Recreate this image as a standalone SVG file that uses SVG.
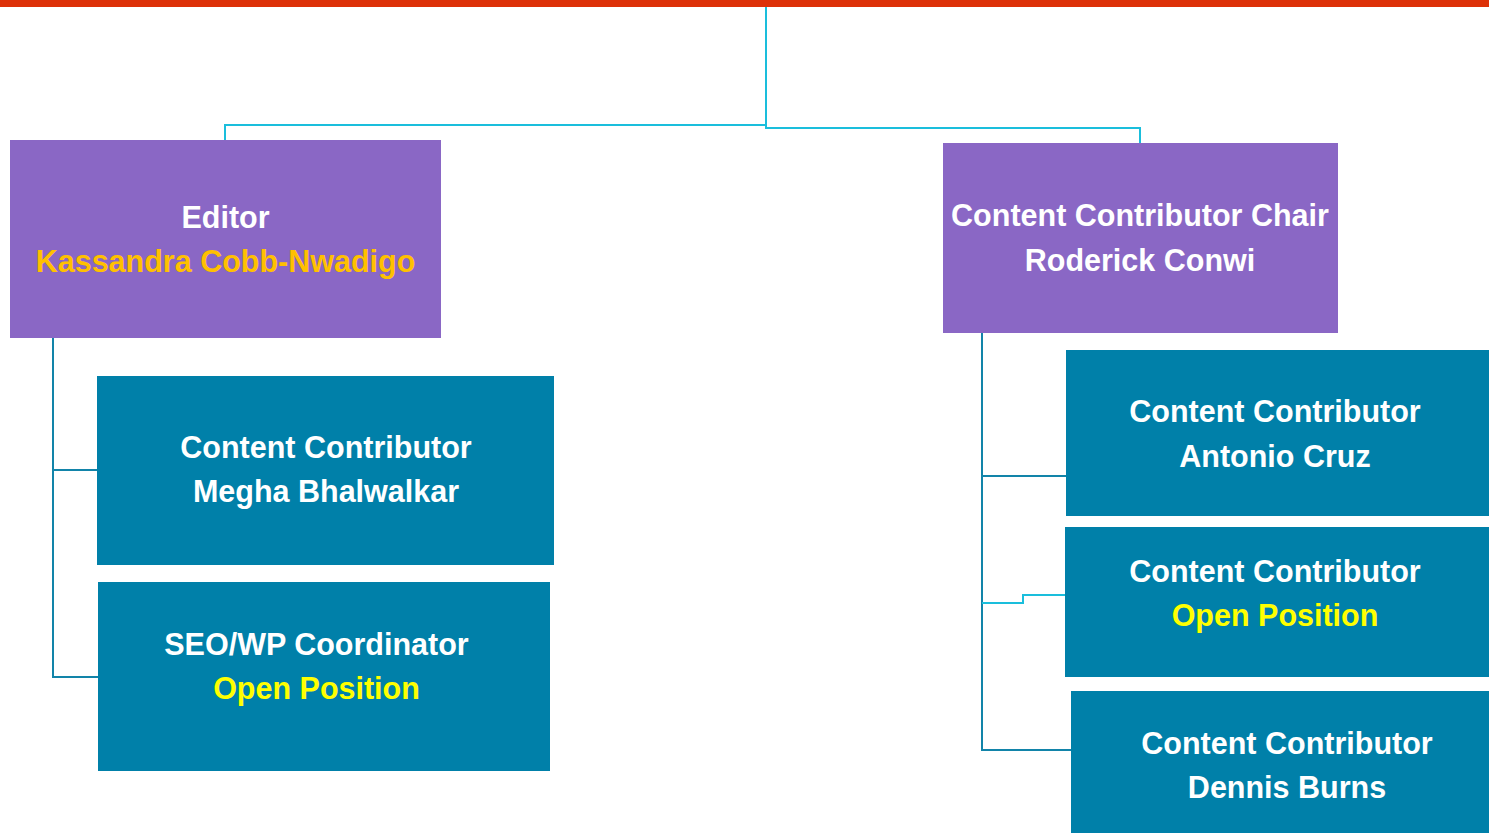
<svg xmlns="http://www.w3.org/2000/svg" width="1489" height="833" viewBox="0 0 1489 833">
<style>
.purple{fill:#8A67C5}
.teal{fill:#0080A9}
.t{font-family:"Liberation Sans",Arial,sans-serif;font-weight:bold;font-size:30.5px;text-anchor:middle;fill:#FFFFFF}
.gold{fill:#FFC000}
.yel{fill:#FFFF00}
.c1{fill:none;stroke:#1ABEDC;stroke-width:2}
.c2{fill:none;stroke:#1284A9;stroke-width:2}
</style>
<rect x="0" y="0" width="1489" height="7" fill="#DD3108"/>
<g id="connectors">
<polyline class="c1" points="766,7 766,125 225,125 225,140"/>
<polyline class="c1" points="766,125 766,128 1140,128 1140,143"/>
<polyline class="c2" points="53,338 53,677 98,677"/>
<line class="c2" x1="53" y1="470" x2="97" y2="470"/>
<polyline class="c2" points="982,333 982,750 1071,750"/>
<line class="c2" x1="982" y1="476" x2="1066" y2="476"/>
<polyline class="c1" points="982,603 1023,603 1023,595 1065,595"/>
</g>
<g id="editor">
<rect class="purple" x="10" y="140" width="431" height="198"/>
<text class="t" x="225.5" y="228">Editor</text>
<text class="t gold" x="225.5" y="272">Kassandra Cobb-Nwadigo</text>
</g>
<g id="chair">
<rect class="purple" x="943" y="143" width="395" height="190"/>
<text class="t" x="1140" y="226">Content Contributor Chair</text>
<text class="t" x="1140" y="271">Roderick Conwi</text>
</g>
<g id="megha">
<rect class="teal" x="97" y="376" width="457" height="189"/>
<text class="t" x="326" y="457.5">Content Contributor</text>
<text class="t" x="326" y="502">Megha Bhalwalkar</text>
</g>
<g id="seo">
<rect class="teal" x="98" y="582" width="452" height="189"/>
<text class="t" x="316.5" y="655">SEO/WP Coordinator</text>
<text class="t yel" x="316.5" y="699">Open Position</text>
</g>
<g id="antonio">
<rect class="teal" x="1066" y="350" width="423" height="166"/>
<text class="t" x="1275" y="422">Content Contributor</text>
<text class="t" x="1275" y="467">Antonio Cruz</text>
</g>
<g id="open-right">
<rect class="teal" x="1065" y="527" width="424" height="150"/>
<text class="t" x="1275" y="582">Content Contributor</text>
<text class="t yel" x="1275" y="626">Open Position</text>
</g>
<g id="dennis">
<rect class="teal" x="1071" y="691" width="418" height="142"/>
<text class="t" x="1287" y="754">Content Contributor</text>
<text class="t" x="1287" y="798">Dennis Burns</text>
</g>
</svg>
